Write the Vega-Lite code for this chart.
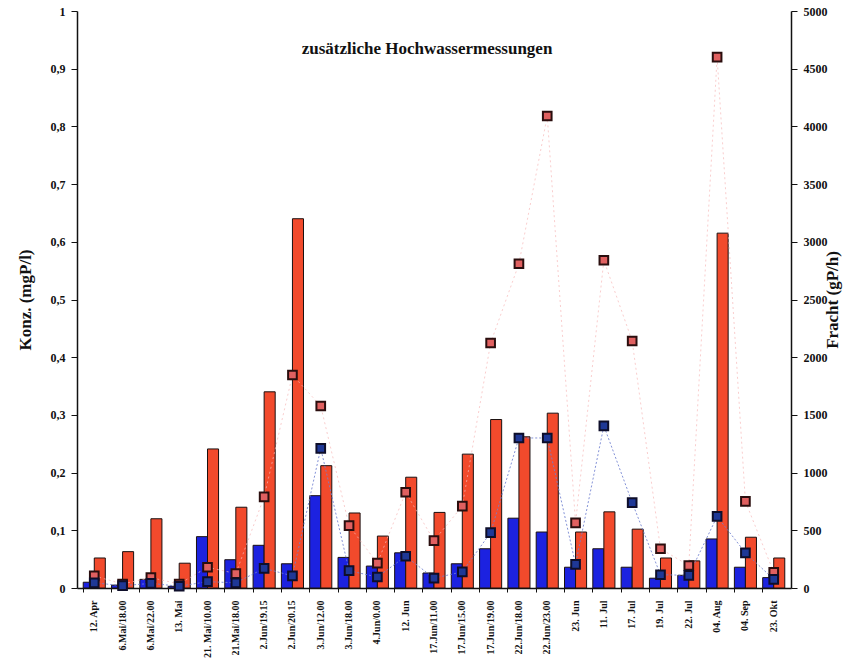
{
  "$schema": "https://vega.github.io/schema/vega-lite/v6.json",
  "autosize": "none",
  "width": 714,
  "height": 577,
  "padding": {"left": 77, "top": 11, "right": 74, "bottom": 70},
  "background": "white",
  "config": {
    "view": {"stroke": null},
    "font": "Liberation Serif",
    "axis": {"labelFont": "Liberation Serif", "titleFont": "Liberation Serif", "labelFontWeight": "bold", "titleFontWeight": "bold", "labelColor": "#111", "titleColor": "#111", "domainColor": "#111", "tickColor": "#111", "grid": false}
  },
  "title": {"text": "zusätzliche Hochwassermessungen", "font": "Liberation Serif", "fontSize": 17, "fontWeight": "bold", "color": "#111", "anchor": "middle", "frame": "group", "offset": -61, "baseline": "middle", "dx": -7},
  "data": {"values": [
    {"datum": "12. Apr", "blau": 0.010, "rot": 0.052, "fb": 45, "fr": 105},
    {"datum": "6.Mai/18.00", "blau": 0.005, "rot": 0.063, "fb": 20, "fr": 35},
    {"datum": "6.Mai/22.00", "blau": 0.015, "rot": 0.120, "fb": 40, "fr": 90},
    {"datum": "13. Mai", "blau": 0.003, "rot": 0.043, "fb": 15, "fr": 35},
    {"datum": "21. Mai/10.00", "blau": 0.089, "rot": 0.241, "fb": 55, "fr": 180},
    {"datum": "21.Mai/18.00", "blau": 0.049, "rot": 0.140, "fb": 45, "fr": 125},
    {"datum": "2.Jun/19.15", "blau": 0.074, "rot": 0.340, "fb": 170, "fr": 790},
    {"datum": "2.Jun/20.15", "blau": 0.042, "rot": 0.640, "fb": 105, "fr": 1846},
    {"datum": "3.Jun/12.00", "blau": 0.160, "rot": 0.212, "fb": 1210, "fr": 1577},
    {"datum": "3.Jun/18.00", "blau": 0.053, "rot": 0.130, "fb": 150, "fr": 540},
    {"datum": "4.Jun/0.00", "blau": 0.038, "rot": 0.090, "fb": 95, "fr": 215},
    {"datum": "12. Jun", "blau": 0.061, "rot": 0.192, "fb": 275, "fr": 830},
    {"datum": "17.Jun/11.00", "blau": 0.026, "rot": 0.131, "fb": 85, "fr": 410},
    {"datum": "17.Jun/15.00", "blau": 0.042, "rot": 0.232, "fb": 140, "fr": 710},
    {"datum": "17.Jun/19.00", "blau": 0.068, "rot": 0.292, "fb": 480, "fr": 2123},
    {"datum": "22.Jun/18.00", "blau": 0.121, "rot": 0.262, "fb": 1300, "fr": 2810},
    {"datum": "22.Jun/23.00", "blau": 0.097, "rot": 0.303, "fb": 1300, "fr": 4090},
    {"datum": "23. Jun", "blau": 0.036, "rot": 0.097, "fb": 205, "fr": 565},
    {"datum": "11. Jul", "blau": 0.068, "rot": 0.132, "fb": 1405, "fr": 2840},
    {"datum": "17. Jul", "blau": 0.036, "rot": 0.102, "fb": 740, "fr": 2140},
    {"datum": "19. Jul", "blau": 0.017, "rot": 0.052, "fb": 115, "fr": 340},
    {"datum": "22. Jul", "blau": 0.022, "rot": 0.047, "fb": 110, "fr": 195},
    {"datum": "04. Aug", "blau": 0.085, "rot": 0.615, "fb": 620, "fr": 4600},
    {"datum": "04. Sep", "blau": 0.036, "rot": 0.088, "fb": 305, "fr": 750},
    {"datum": "23. Okt", "blau": 0.018, "rot": 0.052, "fb": 75, "fr": 135}
  ]},
  "encoding": {
    "x": {"field": "datum", "type": "nominal", "sort": null, "title": null,
      "scale": {"paddingInner": 0.22, "paddingOuter": 0.22},
      "axis": {"labelAngle": 270, "labelFontSize": 10, "labelPadding": 8, "bandPosition": 0, "tickSize": 4, "domainWidth": 1.5, "labelLimit": 120}}
  },
  "layer": [
    {
      "transform": [{"fold": ["blau", "rot"], "as": ["serie", "konz"]}],
      "mark": {"type": "bar", "stroke": "#1a1010", "strokeWidth": 1},
      "encoding": {
        "xOffset": {"field": "serie", "type": "nominal", "scale": {"paddingInner": 0}},
        "y": {"field": "konz", "type": "quantitative", "scale": {"domain": [0, 1], "nice": false},
          "axis": {"title": "Konz. (mgP/l)", "titleFontSize": 17, "titlePadding": 16, "labelFontSize": 12, "values": [0, 0.1, 0.2, 0.3, 0.4, 0.5, 0.6, 0.7, 0.8, 0.9, 1], "labelExpr": "replace(format(datum.value, '~g'), '.', ',')", "tickSize": 6, "domainWidth": 1.5, "labelPadding": 6}},
        "color": {"field": "serie", "type": "nominal", "scale": {"domain": ["blau", "rot"], "range": ["#1c22e0", "#f24a2c"]}, "legend": null}
      }
    },
    {
      "layer": [
        {
          "mark": {"type": "line", "color": "#f6b8b8", "strokeWidth": 1, "strokeDash": [2, 3], "opacity": 0.7},
          "encoding": {"y": {"field": "fr", "type": "quantitative", "scale": {"domain": [0, 5000], "nice": false},
            "axis": {"orient": "right", "title": "Fracht (gP/h)", "titleAngle": 270, "titleFontSize": 17, "titlePadding": 14, "labelFontSize": 12, "format": "d", "values": [0, 500, 1000, 1500, 2000, 2500, 3000, 3500, 4000, 4500, 5000], "tickSize": 6, "domainWidth": 1.5, "labelPadding": 6}}}
        },
        {
          "mark": {"type": "line", "color": "#7080d0", "strokeWidth": 1, "strokeDash": [2, 2], "opacity": 0.85},
          "encoding": {"y": {"field": "fb", "type": "quantitative"}}
        },
        {
          "mark": {"type": "point", "shape": "square", "filled": true, "size": 75, "fill": "#e06060", "stroke": "#2a0e0e", "strokeWidth": 2, "opacity": 1},
          "encoding": {"y": {"field": "fr", "type": "quantitative"}}
        },
        {
          "mark": {"type": "point", "shape": "square", "filled": true, "size": 75, "fill": "#1f3896", "stroke": "#0e0e2a", "strokeWidth": 2, "opacity": 1},
          "encoding": {"y": {"field": "fb", "type": "quantitative"}}
        }
      ]
    }
  ],
  "resolve": {"scale": {"y": "independent", "color": "independent"}}
}
